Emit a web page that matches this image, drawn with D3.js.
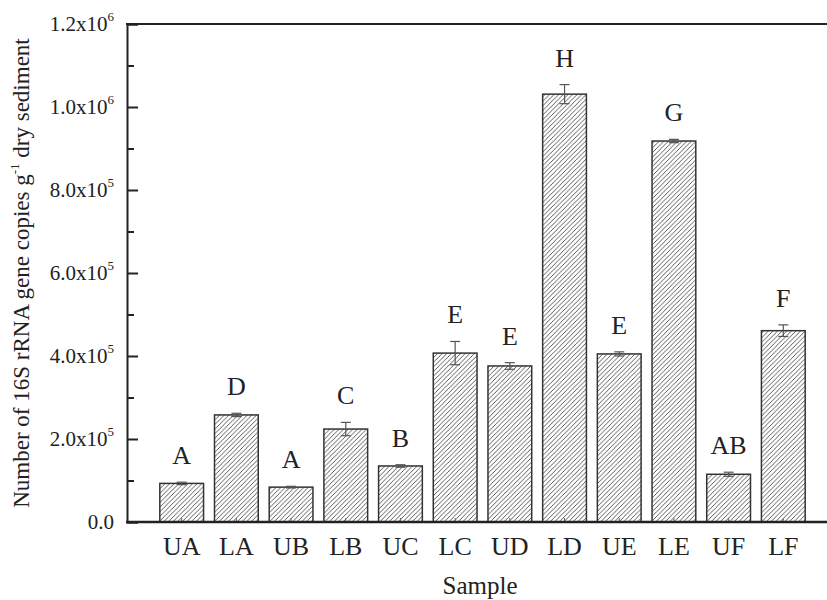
<!DOCTYPE html>
<html>
<head>
<meta charset="utf-8">
<script src="https://cdn.jsdelivr.net/npm/d3@7"></script>
<style>
  body { margin: 0; background: #fff; }
  text { font-family: "Liberation Serif", "Times New Roman", serif; fill: #222; }
</style>
</head>
<body>
<div id="chart"></div>
<script>
// samples and their 16S rRNA gene copy numbers (per g dry sediment)
var categories = ["UA", "LA", "UB", "LB", "UC", "LC", "UD", "LD", "UE", "LE", "UF", "LF"];
var means = [93000, 258000, 84000, 224000, 135000, 407000, 376000, 1031000, 405000, 918000, 115000, 461000];
var errors = [3000, 4000, 2000, 16000, 3000, 28000, 8000, 23000, 5000, 4000, 5000, 14000];
var letters = ["A", "D", "A", "C", "B", "E", "E", "H", "E", "G", "AB", "F"];
var yTicks = [0, 200000, 400000, 600000, 800000, 1000000, 1200000];

var w = 827, h = 600;
// plot frame (right edge runs past the picture, as in the reference)
var plotL = 127, plotR = 838, plotT = 24, plotB = 522;

var svg = d3.select("#chart").append("svg")
  .attr("width", w)
  .attr("height", h);

// hatch fill for the bars
var defs = svg.append("defs");
var hatch = defs.append("pattern")
  .attr("id", "hatch")
  .attr("patternUnits", "userSpaceOnUse")
  .attr("width", 4.6)
  .attr("height", 4.6);
hatch.append("path")
  .attr("d", "M0,4.6 L4.6,0 M-1,1 L1,-1 M3.6,5.6 L5.6,3.6")
  .attr("stroke", "#333")
  .attr("stroke-width", 0.8);

var x = d3.scaleBand()
  .domain(categories)
  .range([plotL, plotR])
  .paddingInner(0.2)
  .paddingOuter(0.6);

var y = d3.scaleLinear()
  .domain([0, 1200000])
  .range([plotB, plotT]);

var rows = categories.map(function(c, i) {
  return { cat: c, mean: means[i], err: errors[i], letter: letters[i] };
});

// bars
svg.selectAll("rect.bar")
  .data(rows)
  .enter()
  .append("rect")
  .attr("class", "bar")
  .attr("x", function(d) { return x(d.cat); })
  .attr("y", function(d) { return y(d.mean); })
  .attr("width", x.bandwidth())
  .attr("height", function(d) { return plotB - y(d.mean); })
  .attr("fill", "url(#hatch)")
  .attr("stroke", "#333")
  .attr("stroke-width", 1.5);

// error bars
var eb = svg.append("g").attr("stroke", "#555").attr("stroke-width", 1.2);
rows.forEach(function(d) {
  var cx = x(d.cat) + x.bandwidth() / 2;
  var y1 = y(d.mean + d.err), y0 = y(d.mean - d.err);
  eb.append("line").attr("x1", cx).attr("x2", cx).attr("y1", y1).attr("y2", y0);
  eb.append("line").attr("x1", cx - 5).attr("x2", cx + 5).attr("y1", y1).attr("y2", y1);
  eb.append("line").attr("x1", cx - 5).attr("x2", cx + 5).attr("y1", y0).attr("y2", y0);
});

// significance letters
svg.selectAll("text.letter")
  .data(rows)
  .enter()
  .append("text")
  .attr("class", "letter")
  .attr("text-anchor", "middle")
  .attr("x", function(d) { return x(d.cat) + x.bandwidth() / 2; })
  .attr("y", function(d) { return y(d.mean + d.err) - 18; })
  .attr("font-size", "26px")
  .text(function(d) { return d.letter; });

// y axis with inward ticks, minor every 1e5
var yAxis = d3.axisRight(y)
  .tickValues(yTicks)
  .tickSize(11)
  .tickFormat("");
var yMinor = d3.axisRight(y)
  .tickValues(d3.range(100000, 1200000, 200000))
  .tickSize(7)
  .tickFormat("");
var gy = svg.append("g").attr("transform", "translate(" + plotL + ",0)").call(yAxis);
var gym = svg.append("g").attr("transform", "translate(" + plotL + ",0)").call(yMinor);
gym.select(".domain").remove();
gy.selectAll(".tick line").attr("stroke", "#222").attr("stroke-width", 2);
gym.selectAll(".tick line").attr("stroke", "#222").attr("stroke-width", 2);
gy.select(".domain").attr("stroke", "#222").attr("stroke-width", 2);

// y tick labels like 2.0x10^5
var labels = svg.append("g").attr("font-size", "21px");
yTicks.forEach(function(v) {
  var t = labels.append("text")
    .attr("x", 114)
    .attr("y", y(v) + 7)
    .attr("text-anchor", "end");
  if (v === 0) {
    t.text("0.0");
  } else {
    var e = Math.floor(Math.log10(v));
    var m = v / Math.pow(10, e);
    t.append("tspan").text(m.toFixed(1) + "x10");
    t.append("tspan").attr("dy", -10).attr("font-size", "13px").text(e);
  }
});

// bottom axis with category ticks and labels
var xAxis = d3.axisTop(x).tickSize(4).tickFormat("");
var gx = svg.append("g").attr("transform", "translate(0," + plotB + ")").call(xAxis);
gx.selectAll(".tick line").attr("stroke", "#666").attr("stroke-width", 1);
gx.select(".domain").remove();
svg.append("line")
  .attr("x1", plotL - 1).attr("x2", plotR)
  .attr("y1", plotB).attr("y2", plotB)
  .attr("stroke", "#222").attr("stroke-width", 2.5);
svg.append("line")
  .attr("x1", plotL - 1).attr("x2", plotR)
  .attr("y1", plotT).attr("y2", plotT)
  .attr("stroke", "#222").attr("stroke-width", 2);

svg.selectAll("text.cat")
  .data(categories)
  .enter()
  .append("text")
  .attr("class", "cat")
  .attr("text-anchor", "middle")
  .attr("x", function(d) { return x(d) + x.bandwidth() / 2; })
  .attr("y", 555)
  .attr("font-size", "26px")
  .text(function(d) { return d; });

// axis titles
svg.append("text")
  .attr("x", 480)
  .attr("y", 594)
  .attr("text-anchor", "middle")
  .attr("font-size", "25px")
  .text("Sample");

var yt = svg.append("text")
  .attr("transform", "translate(29," + ((plotT + plotB) / 2) + ") rotate(-90)")
  .attr("text-anchor", "middle")
  .attr("font-size", "23px");
yt.append("tspan").text("Number of 16S rRNA gene copies g");
yt.append("tspan").attr("dy", -10).attr("font-size", "13px").text("-1");
yt.append("tspan").attr("dy", 10).text(" dry sediment");
</script>
</body>
</html>
